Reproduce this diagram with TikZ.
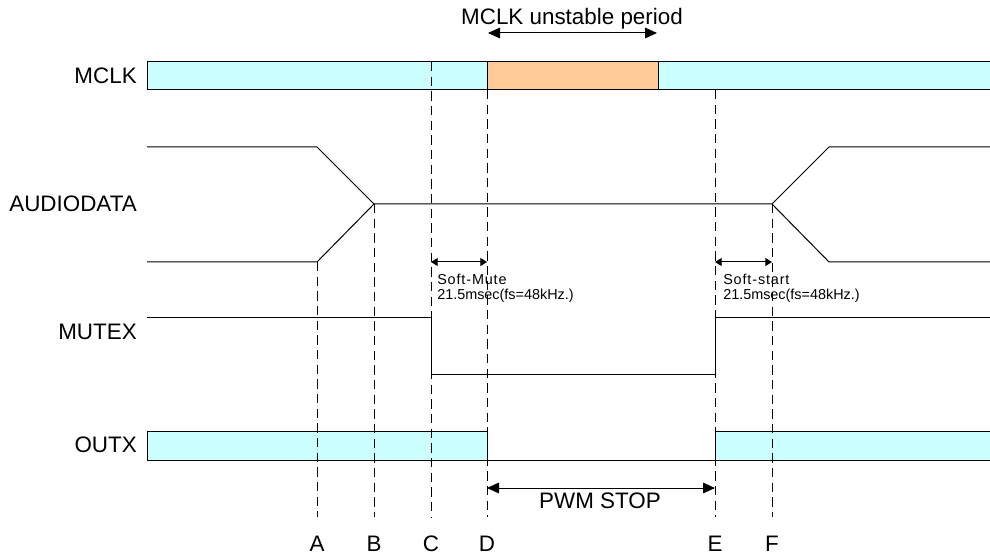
\documentclass[tikz,border=0pt]{standalone}
\usepackage{fontspec}
\setmainfont{Liberation Sans}
\usetikzlibrary{arrows.meta}
\definecolor{clkcyan}{HTML}{CCFFFF}
\definecolor{clkorange}{HTML}{FFCC99}
\begin{document}
\begin{tikzpicture}[x=0.75pt,y=-0.75pt,
  sig/.style={line width=0.75pt, line join=miter},
  guide/.style={line width=0.75pt, dash pattern=on 7pt off 4pt},
  lbl/.style={font=\fontsize{16.8}{20}\selectfont, anchor=east, inner sep=0pt},
  big/.style={font=\fontsize{16.8}{20}\selectfont, inner sep=0pt},
  small/.style={font=\fontsize{10.8}{11}\selectfont, inner sep=0pt, anchor=west, align=left},
  bigdim/.style={line width=0.75pt, {Triangle[length=9pt,width=8pt]}-{Triangle[length=9pt,width=8pt]}},
  smalldim/.style={line width=0.75pt, {Triangle[length=5pt,width=6pt]}-{Triangle[length=5pt,width=6pt]}}
]
\useasboundingbox (0,0) rectangle (990,556);

% MCLK bar
\fill[clkcyan] (147,62) rectangle (990,90);
\fill[clkorange] (487,62) rectangle (658,90);
\draw[sig] (990,62) -- (147,62) -- (147,90) -- (990,90);
\draw[sig] (487,62) -- (487,90);
\draw[sig] (658,62) -- (658,90);

% OUTX bar
\fill[clkcyan] (147,431) rectangle (487,460);
\fill[clkcyan] (715,431) rectangle (990,460);
\draw[sig] (487,431) -- (147,431) -- (147,460) -- (990,460);
\draw[sig] (487,431) -- (487,460);
\draw[sig] (990,431) -- (715,431) -- (715,460);

% AUDIODATA
\draw[sig] (147,147) -- (317,147) -- (374,204) -- (772,204) -- (829,147) -- (990,147);
\draw[sig] (147,262) -- (317,262) -- (374,204);
\draw[sig] (772,204) -- (829,262) -- (990,262);

% MUTEX
\draw[sig] (147,318) -- (431,318) -- (431,374) -- (715,374) -- (715,318) -- (990,318);

% guide lines
\draw[guide] (317,262) -- (317,517);
\draw[guide] (374,204) -- (374,517);
\draw[guide] (431,62) -- (431,517);
\draw[guide] (487,90) -- (487,517);
\draw[guide] (715,90) -- (715,517);
\draw[guide] (772,204) -- (772,517);

% labels
\node[lbl] (lmclk) at (137,76) {MCLK};
\node[lbl] (laudio) at (137,204) {AUDIODATA};
\node[lbl] (lmutex) at (137,332) {MUTEX};
\node[lbl] (loutx) at (137,445) {OUTX};

% MCLK unstable period
\node[big] (unst) at (572,19) {MCLK unstable period};
\draw[bigdim] (488,33) -- (657,33);

% soft mute / start
\draw[smalldim] (431,262) -- (487,262);
\node[small] (smute) at (437,288) {{\addfontfeature{LetterSpace=6}Soft-Mute}\\21.5msec(fs=48kHz.)};
\draw[smalldim] (715,262) -- (772,262);
\node[small] (sstart) at (723,288) {{\addfontfeature{LetterSpace=6}Soft-start}\\21.5msec(fs=48kHz.)};

% PWM STOP
\draw[bigdim] (487,488) -- (715,488);
\node[big] (pwm) at (600,501) {PWM STOP};

% letters
\node[big] (tA) at (317,544) {A};
\node[big] (tB) at (374,544) {B};
\node[big] (tC) at (431,544) {C};
\node[big] (tD) at (487,544) {D};
\node[big] (tE) at (715,544) {E};
\node[big] (tF) at (772,544) {F};
\end{tikzpicture}
\end{document}
